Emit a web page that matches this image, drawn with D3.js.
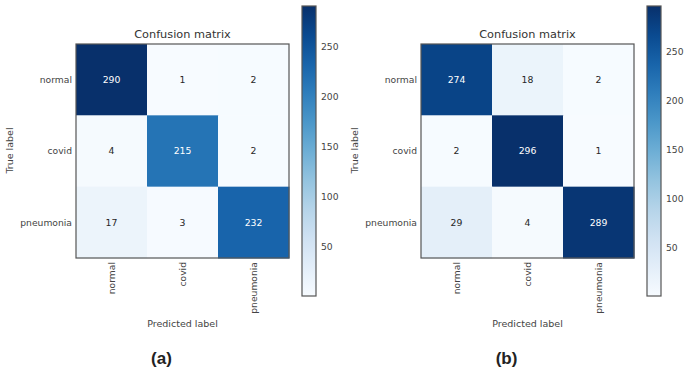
<!DOCTYPE html>
<html>
<head>
<meta charset="utf-8">
<script src="https://cdn.jsdelivr.net/npm/d3@7"></script>
<style>
  body { margin: 0; background: #fff; }
  svg text { font-family: "DejaVu Sans", sans-serif; }
</style>
</head>
<body>
<svg id="chart" width="685" height="372"></svg>
<script>
var classes = ["normal", "covid", "pneumonia"];
var matrixA = [[290, 1, 2], [4, 215, 2], [17, 3, 232]];
var matrixB = [[274, 18, 2], [2, 296, 1], [29, 4, 289]];
var cbTicks = [50, 100, 150, 200, 250];
var panelNames = ["(a)", "(b)"];

var svg = d3.select("#chart");

function drawPanel(m, name, left, cbLeft) {
  var size = 213, top = 44;
  var flat = d3.merge(m);
  var lo = d3.min(flat), hi = d3.max(flat);
  var color = d3.scaleSequential(d3.interpolateBlues).domain([lo, hi]);
  var x = d3.scaleBand().domain(classes).range([left, left + size]);
  var y = d3.scaleBand().domain(classes).range([top, top + size + 1]);

  var g = svg.append("g");
  var cells = [];
  m.forEach(function(row, i) {
    row.forEach(function(v, j) { cells.push({r: classes[i], c: classes[j], v: v}); });
  });

  g.selectAll("rect.cell").data(cells).enter().append("rect")
    .attr("class", "cell")
    .attr("x", function(d) { return x(d.c); })
    .attr("y", function(d) { return y(d.r); })
    .attr("width", x.bandwidth() + 0.5)
    .attr("height", y.bandwidth() + 0.5)
    .attr("fill", function(d) { return color(d.v); });

  g.selectAll("text.val").data(cells).enter().append("text")
    .attr("class", "val")
    .attr("x", function(d) { return x(d.c) + x.bandwidth() / 2; })
    .attr("y", function(d) { return y(d.r) + y.bandwidth() / 2; })
    .attr("dy", "0.35em")
    .attr("text-anchor", "middle")
    .attr("font-size", 9.3)
    .attr("fill", function(d) { return d.v > hi / 2 ? "#fff" : "#262626"; })
    .text(function(d) { return d.v; });

  g.append("rect")
    .attr("x", left).attr("y", top)
    .attr("width", size).attr("height", size + 1)
    .attr("fill", "none").attr("stroke", "#555").attr("stroke-width", 1.2);

  // y tick labels
  g.selectAll("text.yl").data(classes).enter().append("text")
    .attr("x", left - 4)
    .attr("y", function(d) { return y(d) + y.bandwidth() / 2; })
    .attr("dy", "0.35em")
    .attr("text-anchor", "end")
    .attr("font-size", 9.2)
    .attr("fill", "#444")
    .text(function(d) { return d; });

  // x tick labels, rotated
  g.selectAll("text.xl").data(classes).enter().append("text")
    .attr("transform", function(d) {
      return "translate(" + (x(d) + x.bandwidth() / 2) + "," + (top + size + 5) + ") rotate(-90)";
    })
    .attr("dy", "0.35em")
    .attr("text-anchor", "end")
    .attr("font-size", 9.2)
    .attr("fill", "#444")
    .text(function(d) { return d; });

  g.append("text")
    .attr("x", left + size / 2).attr("y", 38)
    .attr("text-anchor", "middle")
    .attr("font-size", 11.3)
    .attr("fill", "#333")
    .text("Confusion matrix");

  g.append("text")
    .attr("transform", "translate(" + (left - 63) + "," + (top + size / 2) + ") rotate(-90)")
    .attr("text-anchor", "middle")
    .attr("font-size", 9.5)
    .attr("fill", "#444")
    .text("True label");

  g.append("text")
    .attr("x", left + size / 2).attr("y", 327)
    .attr("text-anchor", "middle")
    .attr("font-size", 9.5)
    .attr("fill", "#444")
    .text("Predicted label");

  g.append("text")
    .attr("x", left + size / 2 - 21).attr("y", 364)
    .attr("text-anchor", "middle")
    .attr("font-size", 17)
    .attr("font-weight", "bold")
    .attr("font-family", "Liberation Sans, Arial, sans-serif")
    .style("font-family", "'Liberation Sans', Arial, sans-serif")
    .attr("fill", "#222")
    .text(name);

  // colorbar
  var cbTop = 6, cbBottom = 296, cbW = 14;
  var cy = d3.scaleLinear().domain([lo, hi]).range([cbBottom, cbTop]);
  var gradId = "grad" + name.replace(/\W/g, "");
  var grad = svg.append("defs").append("linearGradient")
    .attr("id", gradId).attr("x1", 0).attr("y1", 1).attr("x2", 0).attr("y2", 0);
  d3.range(0, 1.0001, 0.1).forEach(function(t) {
    grad.append("stop").attr("offset", t).attr("stop-color", d3.interpolateBlues(t));
  });
  g.append("rect")
    .attr("x", cbLeft).attr("y", cbTop)
    .attr("width", cbW).attr("height", cbBottom - cbTop)
    .attr("fill", "url(#" + gradId + ")")
    .attr("stroke", "#555").attr("stroke-width", 1.2);

  var axis = d3.axisRight(cy).tickValues(cbTicks).tickSize(0).tickPadding(5);
  var ag = g.append("g")
    .attr("transform", "translate(" + (cbLeft + cbW) + ",0)")
    .call(axis);
  ag.select(".domain").remove();
  ag.selectAll("text").attr("font-size", 9.2).attr("fill", "#444")
    .attr("font-family", "DejaVu Sans, sans-serif");
}

drawPanel(matrixA, panelNames[0], 76, 302);
drawPanel(matrixB, panelNames[1], 421, 647);
</script>
</body>
</html>
